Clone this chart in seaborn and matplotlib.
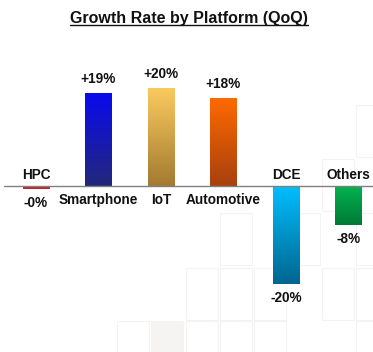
import numpy as np
import pandas as pd
import matplotlib.pyplot as plt
import seaborn as sns
from matplotlib.colors import LinearSegmentedColormap
from matplotlib.lines import Line2D
from matplotlib.patches import Rectangle

# dados
plataformas = ['HPC', 'Smartphone', 'IoT', 'Automotive', 'DCE', 'Others']
crescimento = [-0.6, 19, 20, 18, -20, -8]
rotulos_valor = ['-0%', '+19%', '+20%', '+18%', '-20%', '-8%']

# gradiente de cada barra (topo -> base)
cor_topo = ['#e8303a', '#0a0af0', '#fbcb60', '#ff6a00', '#00bfff', '#00b34f']
cor_base = ['#c01a22', '#22287a', '#a37a30', '#a8400e', '#00668f', '#007a36']

df = pd.DataFrame({'plataforma': plataformas, 'crescimento': crescimento})

sns.set_style('white')
plt.rcParams['font.family'] = ['Liberation Sans', 'DejaVu Sans']

fig = plt.figure(figsize=(3.73, 3.52), dpi=100)
ax = fig.add_axes([0, 0, 1, 322 / 352])
ax.set_zorder(2)
ax.patch.set_alpha(0)

# fundo com quadrados claros (so decoracao, em pixels da figura)
colunas_px = [117, 151, 186, 220, 254, 288, 322, 356]
linhas_px = [105, 159, 213, 268, 321]
quadrados = {0: [7], 1: [6], 2: [3, 5, 7], 3: [2, 3, 4, 6, 7], 4: [0, 1, 2, 3, 4, 7]}
for r, cols in quadrados.items():
    for c in cols:
        x0 = colunas_px[c] / 373
        y0 = (352 - linhas_px[r] - 52) / 352
        fundo = '#f5f4f3' if (r, c) == (4, 1) else 'white'
        fig.patches.append(Rectangle((x0, y0), 32 / 373, 52 / 352, transform=fig.transFigure,
                                     facecolor=fundo, edgecolor='#f5f2f2', linewidth=0.8, zorder=0))

sns.barplot(data=df, x='plataforma', y='crescimento', order=plataformas,
            width=0.42, ax=ax, color='white', saturation=1)

# gradientes
grad = np.linspace(0, 1, 128).reshape(-1, 1)
for patch, c0, c1 in zip(ax.patches, cor_topo, cor_base):
    x0, y0 = patch.get_x(), patch.get_y()
    w, h = patch.get_width(), patch.get_height()
    ytop, ybot = max(y0, y0 + h), min(y0, y0 + h)
    cmap = LinearSegmentedColormap.from_list('g', [c0, c1])
    im = ax.imshow(grad, cmap=cmap, aspect='auto', origin='upper',
                   extent=[x0, x0 + w, ybot, ytop], zorder=2)
    im.set_clip_path(patch)
    patch.set_facecolor('none')
    patch.set_edgecolor('none')

ax.set_xlim(-0.576, 5.392)
ax.set_ylim(-33.9, 31.8)
ax.axhline(0, xmin=4 / 373, xmax=1, color='#808080', linewidth=1.0, zorder=3)

# rotulos
fs = 9.8
for i, (nome, v, rot) in enumerate(zip(plataformas, crescimento, rotulos_valor)):
    if v >= 0:
        ax.annotate(rot, (i, v), xytext=(0, 5), textcoords='offset points',
                    ha='center', va='bottom', fontsize=fs, fontweight='bold', color='#111111')
        ax.annotate(nome, (i, 0), xytext=(0, -5.5), textcoords='offset points',
                    ha='center', va='top', fontsize=fs, fontweight='bold', color='#111111')
    else:
        ax.annotate(rot, (i, v), xytext=(0, -5), textcoords='offset points',
                    ha='center', va='top', fontsize=fs, fontweight='bold', color='#111111')
        ax.annotate(nome, (i, 0), xytext=(0, 3), textcoords='offset points',
                    ha='center', va='bottom', fontsize=fs, fontweight='bold', color='#111111')

ax.set_axis_off()

titulo = fig.text(189 / 373, 1 - 18 / 352, 'Growth Rate by Platform (QoQ)', ha='center', va='center',
                  fontsize=11.5, fontweight='bold', color='#111111')
fig.canvas.draw()
bb = titulo.get_window_extent().transformed(fig.transFigure.inverted())
fig.lines.append(Line2D([bb.x0, bb.x1], [bb.y0 + 0.002, bb.y0 + 0.002], transform=fig.transFigure,
                        color='#111111', linewidth=1.0))

fig.savefig('out.png', dpi=100)
plt.close()
